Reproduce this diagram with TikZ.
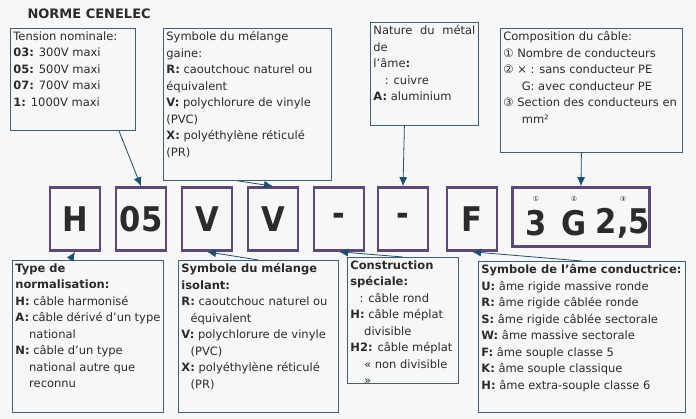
\documentclass[tikz,border=0pt]{standalone}
\usepackage{fontspec}
\setmainfont{DejaVu Sans}
\newfontfamily\condfont{DejaVu Sans Condensed}
\usetikzlibrary{arrows.meta}
\definecolor{bgc}{HTML}{F7F7F7}
\definecolor{boxc}{HTML}{3E5F7C}
\definecolor{arrc}{HTML}{1F4E6E}
\definecolor{letc}{HTML}{5B4A78}
\definecolor{txtc}{HTML}{2B2B2B}
\newcommand{\tbox}[3]{\parbox[t][#2][t]{#1}{#3}}
\begin{document}
\begin{tikzpicture}[x=1pt,y=-1pt,
	info/.style={draw=boxc,line width=0.8pt,anchor=north west,inner sep=3pt,font=\fontsize{11.5}{16.5}\selectfont,text=txtc,align=left},
	letter/.style={draw=letc,line width=2.6pt,minimum width=50pt,minimum height=63pt,inner sep=0pt,font=\condfont\bfseries\fontsize{34}{34}\selectfont,text=txtc},
	big/.style={font=\condfont\bfseries\fontsize{34}{34}\selectfont,text=txtc},
	circ/.style={font=\fontsize{7}{7}\selectfont,text=txtc},
	arr/.style={draw=arrc,line width=0.8pt,-{Latex[length=9pt,width=8pt]}}]
	
	\fill[bgc] (0,0) rectangle (696,419);
	\useasboundingbox (0,0) rectangle (696,419);
	
	\node[anchor=west,font=\bfseries\fontsize{13}{14}\selectfont,text=txtc] (title) at (24,14) {NORME CENELEC};
	
	% boxes above
	\node[info] (tension) at (10,28) {\tbox{119pt}{96pt}{Tension nominale:\\
		\textbf{03:} 300V maxi\\ \textbf{05:} 500V maxi\\ \textbf{07:} 700V maxi\\ \textbf{1:} 1000V maxi}};
	\node[info] (gaine) at (163,28) {\tbox{162pt}{146pt}{Symbole du mélange\\ gaine:\\
		\textbf{R:} caoutchouc naturel ou\\ équivalent\\ \textbf{V:} polychlorure de vinyle\\ (PVC)\\
		\textbf{X:} polyéthylène réticulé\\ (PR)}};
	\node[info] (metal) at (370,22) {\tbox{102pt}{97pt}{Nature du métal de\\ l’âme\textbf{:}\\
		\hspace*{1em}: cuivre\\ \textbf{A:} aluminium}};
	\node[info] (compo) at (500,28) {\tbox{176pt}{118pt}{Composition du câble:\\
		① Nombre de conducteurs\\ ② × : sans conducteur PE\\ \hspace*{1.6em}G: avec conducteur PE\\
		③ Section des conducteurs en\\ \hspace*{1.6em}mm²}};
	
	% code letters
	\node[letter] (H) at (75,219) {H};
	\node[letter] (U) at (141,219) {05};
	\node[letter] (V1) at (207,219) {V};
	\node[letter] (V2) at (273,219) {V};
	\node[letter] (D1) at (339,219) {-};
	\node[letter] (D2) at (403,219) {-};
	\node[letter] (F) at (472,219) {F};
	\node[letter,minimum width=137pt,minimum height=59pt] (S) at (581,217) {};
	\node[circ] (c1) at (536,199) {①};
	\node[circ] (c2) at (574,199) {②};
	\node[circ] (c3) at (623,199) {③};
	\node[big] (n1) at (536,223) {3};
	\node[big] (n2) at (574,223) {G};
	\node[big] (n3) at (623,223) {2,5};
	
	% boxes below
	\node[info] (norm) at (12,260) {\tbox{145pt}{146pt}{\textbf{Type de\\ normalisation:}\\
		\textbf{H:} câble harmonisé\\ \textbf{A:} câble dérivé d’un type\\ \hspace*{1.2em}national\\
		\textbf{N:} câble d’un type\\ \hspace*{1.2em}national autre que\\ \hspace*{1.2em}reconnu}};
	\node[info] (isol) at (178,260) {\tbox{154pt}{146pt}{\textbf{Symbole du mélange\\ isolant:}\\
		\textbf{R:} caoutchouc naturel ou\\ \hspace*{0.8em}équivalent\\ \textbf{V:} polychlorure de vinyle\\ \hspace*{0.8em}(PVC)\\
		\textbf{X:} polyéthylène réticulé\\ \hspace*{0.8em}(PR)}};
	\node[info] (constr) at (347,257) {\tbox{105pt}{120pt}{\textbf{Construction\\ spéciale:}\\
		\hspace*{0.8em}: câble rond\\ \textbf{H:} câble méplat\\ \hspace*{1.2em}divisible\\
		\textbf{H2:} câble méplat\\ \hspace*{1.2em}« non divisible\\ \hspace*{1.2em}»}};
	\node[info] (ame) at (478,261) {\tbox{201pt}{145pt}{\textbf{Symbole de l’âme conductrice:}\\
		\textbf{U:} âme rigide massive ronde\\ \textbf{R:} âme rigide câblée ronde\\ \textbf{S:} âme rigide câblée sectorale\\
		\textbf{W:} âme massive sectorale\\ \textbf{F:} âme souple classe 5\\ \textbf{K:} âme souple classique\\
		\textbf{H:} âme extra-souple classe 6}};
	
	\draw[arr] (tension.south) ++(46,0) -- (U.north);
	\draw[arr] (gaine.south) ++(-10,0) -- (V2.north);
	\draw[arr] (metal.south) ++(-20,0) -- (D2.north);
	\draw[arr] (compo.south) ++(-10,0) -- (S.north);
	\draw[arr] (norm.north) ++(-18,0) -- (H.south);
	\draw[arr] (isol.north) -- (V1.south);
	\draw[arr] (constr.north) -- (D1.south);
	\draw[arr] (ame.north) -- (F.south);
\end{tikzpicture}
\end{document}
